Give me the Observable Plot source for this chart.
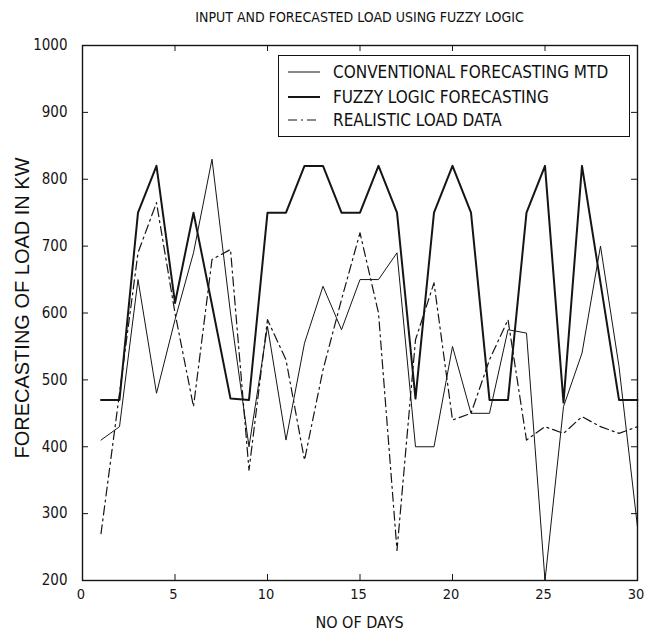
<!DOCTYPE html>
<html>
<head>
<meta charset="utf-8">
<script src="https://cdn.jsdelivr.net/npm/d3@7"></script>
<script src="https://cdn.jsdelivr.net/npm/@observablehq/plot@0.6"></script>
<style>
  body { margin: 0; background: #fff; }
  #wrap { position: relative; width: 645px; height: 640px; color: #111; overflow: hidden;
          font-family: "DejaVu Sans Condensed", "Liberation Sans Narrow", "Liberation Sans", sans-serif; }
  #title { position: absolute; left: 82px; width: 555px; top: 9px; text-align: center; font-size: 14px; }
  #xlabel { position: absolute; left: 82px; width: 555px; top: 613px; text-align: center; font-size: 16px; }
  #ylabel { position: absolute; left: 22px; top: 308px; transform: translate(-50%, -50%) rotate(-90deg);
            white-space: nowrap; font-family: "Liberation Sans", Arial, sans-serif; font-size: 20px; }
  #legend { position: absolute; left: 278px; top: 55px; width: 352px; height: 82px; background: #fff;
            border: 1.5px solid #111; box-sizing: border-box; font-size: 17px; }
  .row { position: absolute; left: 8px; height: 20px; display: flex; align-items: center; white-space: nowrap; }
  .row svg { width: 34px; height: 20px; margin-right: 12px; }
</style>
</head>
<body>
<div id="wrap">
  <div id="chart"></div>
  <div id="title"></div>
  <div id="xlabel"></div>
  <div id="ylabel"></div>
  <div id="legend"></div>
</div>
<script>
// ---- data ----
const titleText = "INPUT AND FORECASTED LOAD USING FUZZY LOGIC";
const xLabel = "NO OF DAYS";
const yLabel = "FORECASTING OF LOAD IN KW";
const seriesNames = ["CONVENTIONAL FORECASTING MTD", "FUZZY LOGIC FORECASTING", "REALISTIC LOAD DATA"];
const days = [1,2,3,4,5,6,7,8,9,10,11,12,13,14,15,16,17,18,19,20,21,22,23,24,25,26,27,28,29,30];
const conventional = [410,430,650,480,590,690,830,600,400,580,410,555,640,575,650,650,690,400,400,550,450,450,575,570,200,460,540,700,520,280];
const fuzzy        = [470,470,750,820,615,750,612,472,470,750,750,820,820,750,750,820,750,472,750,820,750,470,470,750,820,466,820,645,470,470];
const realistic    = [270,480,690,765,600,460,680,695,365,590,530,380,515,620,720,600,245,560,645,440,450,530,590,410,430,420,445,430,420,430];
const xTicks = [0,5,10,15,20,25,30];
const yTicks = [200,300,400,500,600,700,800,900,1000];

// ---- build ----
const toRows = (vals) => days.map((d, i) => ({day: d, value: vals[i]}));
const ink = "#151515";
const styles = [
  {stroke: ink, strokeWidth: 1, strokeDasharray: null},
  {stroke: ink, strokeWidth: 2, strokeDasharray: null},
  {stroke: ink, strokeWidth: 1.2, strokeDasharray: "9,4,2,4"}
];
const W = 645, H = 640, mL = 82, mR = 8, mT = 45, mB = 60;
const fw = W - mL - mR, fh = H - mT - mB, tk = 6;

const chart = Plot.plot({
  width: W, height: H,
  marginLeft: mL, marginRight: mR, marginTop: mT, marginBottom: mB,
  x: {domain: [0, 30], axis: null},
  y: {domain: [200, 1000], axis: null},
  style: {fontFamily: "'DejaVu Sans Condensed','Liberation Sans Narrow','Liberation Sans',sans-serif",
          fontSize: "16px", color: ink, background: "transparent", overflow: "visible"},
  marks: [
    Plot.line(toRows(realistic), {x: "day", y: "value", ...styles[2]}),
    Plot.line(toRows(conventional), {x: "day", y: "value", ...styles[0]}),
    Plot.line(toRows(fuzzy), {x: "day", y: "value", ...styles[1]}),
    Plot.frame({stroke: ink, strokeWidth: 1.4}),
    Plot.tickY(yTicks, {y: d => d, insetRight: fw - tk, stroke: ink}),
    Plot.tickY(yTicks, {y: d => d, insetLeft: fw - tk, stroke: ink}),
    Plot.tickX(xTicks, {x: d => d, insetTop: fh - tk, stroke: ink}),
    Plot.tickX(xTicks, {x: d => d, insetBottom: fh - tk, stroke: ink}),
    Plot.axisX(xTicks, {tickSize: 0, tickPadding: 8, label: null, fontSize: 14.5, dx: -1.5, tickFormat: d => String(d)}),
    Plot.axisY(yTicks, {tickSize: 0, tickPadding: 15, label: null, fontSize: 15, tickFormat: d => String(d)})
  ]
});
document.getElementById("chart").appendChild(chart);

document.getElementById("title").textContent = titleText;
document.getElementById("xlabel").textContent = xLabel;
document.getElementById("ylabel").textContent = yLabel;

const legend = document.getElementById("legend");
const rowTops = [6, 31, 54];
seriesNames.forEach((name, i) => {
  const row = document.createElement("div");
  row.className = "row";
  row.style.top = rowTops[i] + "px";
  const s = styles[i];
  row.innerHTML = `<svg viewBox="0 0 34 20"><line x1="1" y1="10" x2="33" y2="10" stroke="${s.stroke}" stroke-width="${s.strokeWidth}" ${s.strokeDasharray ? `stroke-dasharray="${s.strokeDasharray}"` : ""}/></svg><span>${name}</span>`;
  legend.appendChild(row);
});
</script>
</body>
</html>
